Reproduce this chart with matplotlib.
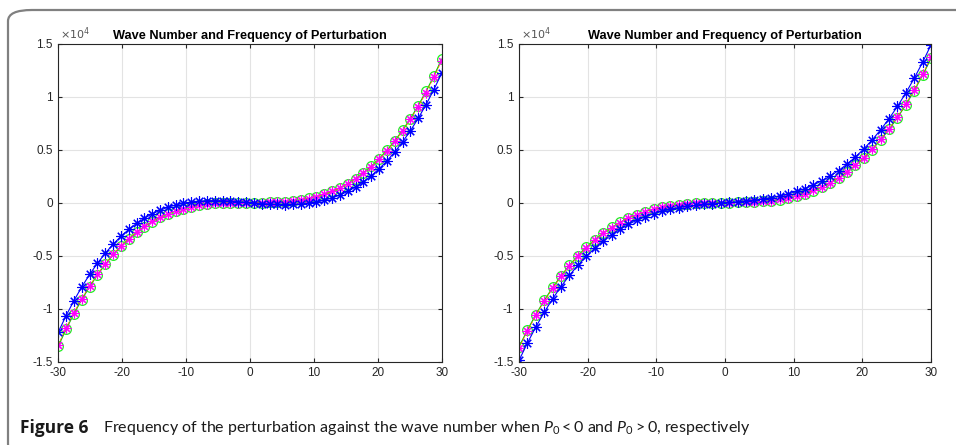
import numpy as np
import matplotlib
matplotlib.use("Agg")
import matplotlib.pyplot as plt
from matplotlib.patches import FancyBboxPatch
from matplotlib.ticker import FuncFormatter

plt.rcParams["font.family"] = ["Liberation Sans", "DejaVu Sans"]
plt.rcParams["mathtext.fontset"] = "custom"
plt.rcParams["mathtext.rm"] = "Lato"
plt.rcParams["mathtext.it"] = "Lato:italic"

# wave numbers: 50 evenly spaced samples
k = np.linspace(-30, 30, 50)

# left panel (P0 < 0)
left_green = [-13527, -11937, -10478, -9142, -7925, -6821, -5824, -4930, -4132, -3425,
              -2804, -2263, -1797, -1399, -1065, -789, -565, -388, -253, -153,
              -84, -39, -14, -3, 0,
              0, 3, 14, 39, 84, 153, 253, 388, 565, 789,
              1065, 1399, 1797, 2263, 2804, 3425, 4132, 4930, 5824, 6821,
              7925, 9142, 10478, 11937, 13527]
left_magenta = [-13392, -11818, -10373, -9050, -7846, -6752, -5766, -4880, -4091, -3391,
                -2776, -2241, -1779, -1385, -1054, -781, -559, -384, -250, -152,
                -83, -39, -14, -3, 0,
                0, 3, 14, 39, 83, 152, 250, 384, 559, 781,
                1054, 1385, 1779, 2241, 2776, 3391, 4091, 4880, 5766, 6752,
                7846, 9050, 10373, 11818, 13392]
left_blue = [-12199, -10652, -9237, -7946, -6776, -5720, -4772, -3928, -3182, -2528,
             -1960, -1473, -1062, -720, -443, -224, -58, 60, 137, 177,
             187, 171, 136, 87, 30,
             -30, -87, -136, -171, -187, -177, -137, -60, 58, 224,
             443, 720, 1062, 1473, 1960, 2528, 3182, 3928, 4772, 5720,
             6776, 7946, 9237, 10652, 12199]

# right panel (P0 > 0)
right_green = [-13596, -12010, -10553, -9218, -8003, -6899, -5903, -5007, -4208, -3500,
               -2876, -2332, -1862, -1461, -1123, -842, -614, -432, -291, -186,
               -111, -61, -30, -12, -3,
               3, 12, 30, 61, 111, 186, 291, 432, 614, 842,
               1123, 1461, 1862, 2332, 2876, 3500, 4208, 5007, 5903, 6899,
               8003, 9218, 10553, 12010, 13596]
right_magenta = [-13707, -12110, -10643, -9300, -8075, -6964, -5960, -5058, -4253, -3539,
                 -2911, -2362, -1888, -1483, -1142, -858, -627, -443, -300, -193,
                 -117, -65, -33, -14, -4,
                 4, 14, 33, 65, 117, 193, 300, 443, 627, 858,
                 1142, 1483, 1888, 2362, 2911, 3539, 4253, 5058, 5960, 6964,
                 8075, 9300, 10643, 12110, 13707]
right_blue = [-14879, -13238, -11726, -10337, -9067, -7910, -6860, -5912, -5059, -4298,
              -3622, -3026, -2504, -2050, -1660, -1328, -1048, -815, -623, -466,
              -340, -239, -157, -89, -29,
              29, 89, 157, 239, 340, 466, 623, 815, 1048, 1328,
              1660, 2050, 2504, 3026, 3622, 4298, 5059, 5912, 6860, 7910,
              9067, 10337, 11726, 13238, 14879]

x_ticks = [-30, -20, -10, 0, 10, 20, 30]
y_ticks = [-15000, -10000, -5000, 0, 5000, 10000, 15000]
title = "Wave Number and Frequency of Perturbation"
asterisk = (8, 2, 0)

fig = plt.figure(figsize=(9.56, 4.45), dpi=100)

# rounded frame, open past the right and bottom edges like the page crop
frame = FancyBboxPatch((8 / 956, -10 / 445), 1000 / 956, 445 / 445,
                       boxstyle="round,pad=0,rounding_size=0.025",
                       transform=fig.transFigure, fill=False,
                       edgecolor="#808080", linewidth=1.6)
fig.patches.append(frame)

ax1 = fig.add_axes([0.061, 0.1872, 0.401, 0.715])
ax2 = fig.add_axes([0.5429, 0.1872, 0.431, 0.715])

for ax, g, m, b in [(ax1, left_green, left_magenta, left_blue),
                    (ax2, right_green, right_magenta, right_blue)]:
    ax.plot(k, g, color="#00cc00", lw=0.8, marker="o", ms=7,
            mfc="none", mec="#22ee22", mew=0.9)
    ax.plot(k, m, color="#ff7000", lw=0.6, ls="--", marker=asterisk, ms=7,
            mec="#ff00ff", mfc="#ff00ff", mew=0.8)
    ax.plot(k, b, color="#0000ff", lw=0.8, marker=asterisk, ms=7.5,
            mec="#0000ff", mew=0.8)
    ax.set_xlim(-30, 30)
    ax.set_ylim(-15000, 15000)
    ax.set_xticks(x_ticks)
    ax.set_yticks(y_ticks)
    ax.yaxis.set_major_formatter(FuncFormatter(lambda v, p: f"{v / 1e4:g}"))
    ax.xaxis.set_major_formatter(FuncFormatter(lambda v, p: f"{v:g}"))
    ax.grid(True, color="#e3e3e3", lw=0.8)
    ax.set_axisbelow(True)
    ax.tick_params(direction="in", top=True, right=True, length=3,
                   labelsize=8.5, color="#262626", labelcolor="#262626", pad=4)
    for s in ax.spines.values():
        s.set_color("#262626")
        s.set_linewidth(0.8)
    ax.set_title(title, fontsize=9.2, fontweight="bold", pad=3)
    ax.text(0.005, 1.005, r"$\times10^{4}$", transform=ax.transAxes,
            fontsize=8, color="#555555", ha="left", va="bottom",
            math_fontfamily="dejavusans")

fig.text(20 / 956, 1 - 428 / 445, "Figure 6", fontsize=12.5, fontweight="bold",
         family="Open Sans", va="center", ha="left", color="#1a1a1a")
fig.text(103 / 956, 1 - 428 / 445,
         "Frequency of the perturbation against the wave number when $P_0 < 0$ and $P_0 > 0$, respectively",
         fontsize=11.5, family="Lato", va="center", ha="left", color="#1a1a1a")

fig.savefig("out.png", dpi=100)
